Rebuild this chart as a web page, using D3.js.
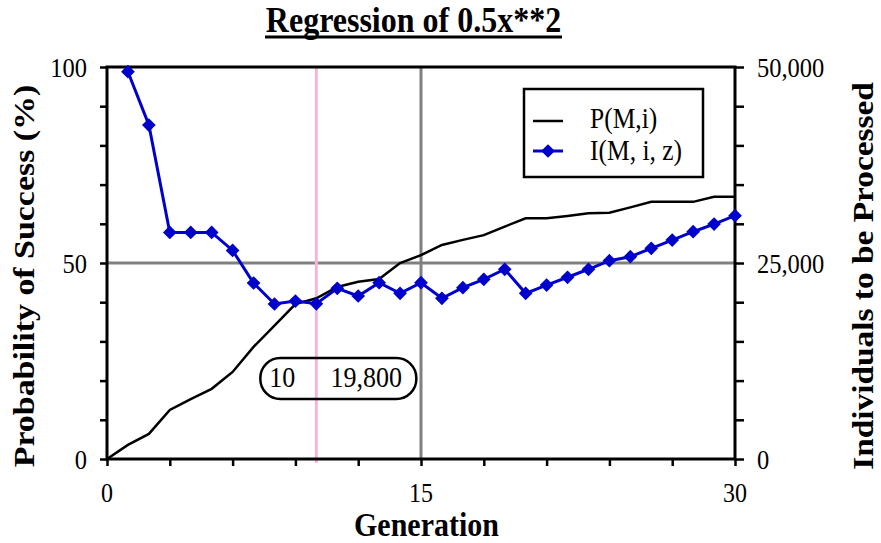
<!DOCTYPE html>
<html>
<head>
<meta charset="utf-8">
<script src="https://cdn.jsdelivr.net/npm/d3@7"></script>
<style>
  body { margin: 0; background: #fff; }
  svg { display: block; font-family: "Liberation Serif", "Times New Roman", serif; }
</style>
</head>
<body>
<div id="chart"></div>
<script>
// Data
var generations = d3.range(0, 31);
var probSuccess = [0, 3.6, 6.4, 12.5, 15.3, 17.9, 22.2, 28.6, 34, 39.5, 41,
    43.9, 45.2, 45.9, 50, 52, 54.6, 55.9, 57.1, 59.3, 61.4,
    61.4, 62, 62.7, 62.8, 64.2, 65.6, 65.6, 65.6, 66.9, 66.9];
var indivGens = d3.range(1, 31);
var individuals = [49400, 42600, 28900, 28900, 28900, 26600, 22450, 19770, 20150, 19800,
    21770, 20790, 22490, 21130, 22490, 20500, 21850, 22920, 24200, 21130,
    22190, 23180, 24200, 25290, 25800, 26870, 27930, 28990, 29970, 31030];
var xTickLabels = [0, 15, 30];
var yLeftLabels = [0, 50, 100];
var yRightLabels = [0, 25000, 50000];
var bestGen = 10;
var bestValue = "19,800";

var svgWidth = 881;
var svgHeight = 543;
var margin = {top: 67, right: 146, bottom: 84, left: 107};
var width = svgWidth - margin.left - margin.right;
var height = svgHeight - margin.top - margin.bottom;
var stretch = 1.15;   // the original text is a little taller than wide

var svg = d3.select("#chart")
    .append("svg")
    .attr("width", svgWidth)
    .attr("height", svgHeight);

// text helper: draws at (x, y) with a vertical stretch
function label(parent, x, y, str, size, anchor, bold) {
    return parent.append("text")
        .attr("transform", "translate(" + x + "," + y + ") scale(1," + stretch + ")")
        .attr("text-anchor", anchor || "start")
        .attr("font-size", size)
        .attr("font-weight", bold ? "bold" : null)
        .attr("fill", "#000")
        .text(str);
}

var g = svg.append("g")
    .attr("transform", "translate(" + margin.left + "," + margin.top + ")");

var x = d3.scaleLinear().domain([0, 30]).range([0, width]);
var yL = d3.scaleLinear().domain([0, 100]).range([height, 0]);
var yR = d3.scaleLinear().domain([0, 50000]).range([height, 0]);

// grid lines at the middle
g.append("line")
    .attr("x1", x(15)).attr("x2", x(15))
    .attr("y1", 0).attr("y2", height)
    .attr("stroke", "#808080").attr("stroke-width", 3);
g.append("line")
    .attr("x1", 0).attr("x2", width)
    .attr("y1", yL(50)).attr("y2", yL(50))
    .attr("stroke", "#808080").attr("stroke-width", 3);

// best generation marker
g.append("line")
    .attr("x1", x(bestGen)).attr("x2", x(bestGen))
    .attr("y1", 0).attr("y2", height + 4)
    .attr("stroke", "#f4b6d6").attr("stroke-width", 3);

// axes (ticks only, labels drawn below)
function tickStyle(sel) {
    sel.select(".domain").remove();
    sel.selectAll(".tick line").attr("stroke", "#000").attr("stroke-width", 2.5);
    sel.selectAll(".tick text").remove();
}

g.append("g")
    .attr("transform", "translate(0," + height + ")")
    .call(d3.axisBottom(x).tickValues(d3.range(0, 31, 3)).tickSize(7))
    .call(tickStyle);

g.append("g")
    .call(d3.axisLeft(yL).tickValues(d3.range(0, 101, 10)).tickSize(7))
    .call(tickStyle);

g.append("g")
    .attr("transform", "translate(" + width + ",0)")
    .call(d3.axisRight(yR).tickValues(d3.range(0, 50001, 5000)).tickSize(9))
    .call(tickStyle);

xTickLabels.forEach(function(d) {
    label(g, x(d), height + 43, d, 24, "middle");
});
yLeftLabels.forEach(function(d) {
    label(g, -20, yL(d) + 9.5, d, 24.5, "end");
});
yRightLabels.forEach(function(d) {
    label(g, width + 22, yR(d) + 9.5, d3.format(",")(d), 24.5, "start");
});

// frame
g.append("rect")
    .attr("x", 0).attr("y", 0)
    .attr("width", width).attr("height", height)
    .attr("fill", "none")
    .attr("stroke", "#000")
    .attr("stroke-width", 3);

// P(M,i) line
var pLine = d3.line()
    .x(function(d, i) { return x(generations[i]); })
    .y(function(d) { return yL(d); });

g.append("path")
    .datum(probSuccess)
    .attr("d", pLine)
    .attr("fill", "none")
    .attr("stroke", "#000")
    .attr("stroke-width", 2.5);

// I(M,i,z) line with diamonds
var iLine = d3.line()
    .x(function(d, i) { return x(indivGens[i]); })
    .y(function(d) { return yR(d); });

g.append("path")
    .datum(individuals)
    .attr("d", iLine)
    .attr("fill", "none")
    .attr("stroke", "#0000cc")
    .attr("stroke-width", 3);

var diamond = d3.symbol().type(d3.symbolDiamond2).size(120);
g.selectAll(".dot")
    .data(individuals)
    .join("path")
    .attr("class", "dot")
    .attr("d", diamond)
    .attr("transform", function(d, i) {
        return "translate(" + x(indivGens[i]) + "," + yR(d) + ")";
    })
    .attr("fill", "#0000cc");

// annotation pill
var pill = g.append("g");
pill.append("rect")
    .attr("x", x(bestGen) - 56).attr("y", 291)
    .attr("width", 156).attr("height", 41)
    .attr("rx", 20).attr("ry", 20)
    .attr("fill", "none")
    .attr("stroke", "#000")
    .attr("stroke-width", 2.5);
label(pill, x(bestGen) - 34, 320, bestGen, 26, "middle");
label(pill, x(bestGen) + 50, 320, bestValue, 26, "middle");

// legend
var legend = svg.append("g").attr("transform", "translate(524,89)");
legend.append("rect")
    .attr("width", 179).attr("height", 88)
    .attr("fill", "#fff")
    .attr("stroke", "#000")
    .attr("stroke-width", 2.5);
legend.append("line")
    .attr("x1", 9).attr("x2", 39).attr("y1", 32).attr("y2", 32)
    .attr("stroke", "#000").attr("stroke-width", 2.5);
label(legend, 66, 39, "P(M,i)", 25.5, "start");
legend.append("line")
    .attr("x1", 9).attr("x2", 39).attr("y1", 62).attr("y2", 62)
    .attr("stroke", "#0000cc").attr("stroke-width", 3);
legend.append("path")
    .attr("d", diamond)
    .attr("transform", "translate(24,62)")
    .attr("fill", "#0000cc");
label(legend, 66, 71, "I(M, i, z)", 25.5, "start");

// title
label(svg, 413.5, 32, "Regression of 0.5x**2", 32, "middle", true);
svg.append("line")
    .attr("x1", 265).attr("x2", 562)
    .attr("y1", 37).attr("y2", 37)
    .attr("stroke", "#000").attr("stroke-width", 3);

// axis titles
label(svg, 426.5, 536, "Generation", 30, "middle", true);

svg.append("text")
    .attr("transform", "translate(34,276) scale(1," + stretch + ") rotate(-90)")
    .attr("text-anchor", "middle")
    .attr("font-size", 29.5)
    .attr("font-weight", "bold")
    .text("Probability of Success (%)");

svg.append("text")
    .attr("transform", "translate(873,276) scale(1," + stretch + ") rotate(-90)")
    .attr("text-anchor", "middle")
    .attr("font-size", 29)
    .attr("font-weight", "bold")
    .text("Individuals to be Processed");
</script>
</body>
</html>
